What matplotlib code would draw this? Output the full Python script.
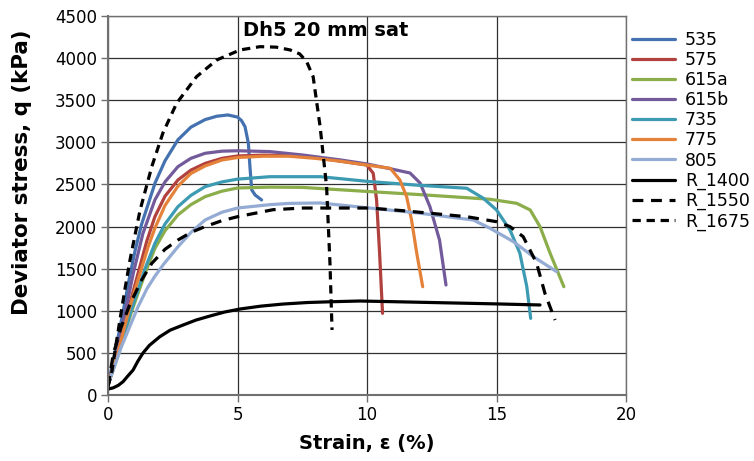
import matplotlib
matplotlib.use("Agg")
import matplotlib.pyplot as plt

plt.rcParams['font.family'] = ['DejaVu Sans']

title = "Dh5 20 mm sat"
x_label = "Strain, ε (%)"
y_label = "Deviator stress, q (kPa)"
x_ticks = [0, 5, 10, 15, 20]
y_ticks = [0, 500, 1000, 1500, 2000, 2500, 3000, 3500, 4000, 4500]

s535_x = [0, 0.27, 0.59, 0.82, 1.05, 1.3, 1.82, 2.2, 2.7, 3.2, 3.75, 4.2, 4.63, 5.0, 5.15, 5.29, 5.42, 5.48, 5.55, 5.68, 5.93]
s535_y = [120, 500, 1000, 1380, 1720, 2030, 2520, 2780, 3030, 3180, 3270, 3310, 3325, 3300, 3260, 3186, 2989, 2711, 2435, 2375, 2316]

s575_x = [0, 0.35, 0.77, 1.21, 1.5, 1.81, 2.2, 2.7, 3.2, 3.75, 4.4, 5.0, 6.0, 7.0, 8.0, 9.0, 9.99, 10.24, 10.37, 10.48, 10.6]
s575_y = [120, 500, 1000, 1500, 1830, 2117, 2360, 2553, 2670, 2750, 2810, 2838, 2848, 2845, 2820, 2775, 2731, 2633, 2316, 1722, 970]

s615a_x = [0, 0.42, 0.92, 1.5, 1.81, 2.2, 2.7, 3.2, 3.75, 4.4, 5.0, 6.25, 7.5, 10.1, 12.0, 13.98, 14.75, 15.78, 16.3, 16.68, 17.07, 17.6]
s615a_y = [120, 500, 1000, 1500, 1740, 1950, 2138, 2260, 2355, 2420, 2458, 2468, 2465, 2415, 2380, 2340, 2324, 2276, 2197, 1999, 1683, 1286]

s615b_x = [0, 0.3, 0.68, 0.98, 1.35, 1.81, 2.2, 2.7, 3.2, 3.75, 4.4, 5.0, 6.25, 7.5, 9.0, 10.0, 11.0, 11.66, 12.05, 12.43, 12.8, 13.05]
s615b_y = [120, 450, 1000, 1450, 1920, 2316, 2530, 2711, 2810, 2870, 2895, 2900, 2890, 2850, 2790, 2743, 2680, 2636, 2517, 2236, 1840, 1306]

s735_x = [0, 0.4, 0.89, 1.43, 1.81, 2.2, 2.7, 3.2, 3.75, 4.4, 5.0, 6.25, 8.2, 10.1, 12.0, 13.85, 14.49, 15.0, 15.52, 15.9, 16.17, 16.32]
s735_y = [120, 500, 1000, 1500, 1800, 2030, 2236, 2370, 2474, 2530, 2563, 2592, 2592, 2534, 2490, 2455, 2336, 2197, 1960, 1686, 1286, 910]

s775_x = [0, 0.38, 0.8, 1.29, 1.55, 1.81, 2.2, 2.7, 3.2, 3.75, 4.4, 5.0, 6.0, 7.0, 8.0, 9.0, 10.0, 10.9, 11.27, 11.53, 11.72, 11.92, 12.15]
s775_y = [120, 500, 1000, 1500, 1760, 1980, 2250, 2480, 2630, 2720, 2790, 2820, 2835, 2835, 2810, 2775, 2730, 2692, 2553, 2355, 2078, 1686, 1286]

s805_x = [0, 0.5, 1.16, 1.5, 1.81, 2.14, 2.7, 3.2, 3.75, 4.4, 5.0, 6.25, 7.0, 8.2, 10.1, 12.0, 14.1, 14.75, 15.65, 16.42, 17.32]
s805_y = [120, 560, 1048, 1260, 1410, 1550, 1760, 1930, 2078, 2170, 2220, 2260, 2275, 2280, 2220, 2160, 2078, 1980, 1821, 1643, 1465]

r1400_x = [0, 0.2, 0.4, 0.58, 0.75, 0.97, 1.15, 1.35, 1.6, 2.0, 2.4, 2.9, 3.4, 3.94, 4.5, 5.1, 5.9, 6.76, 7.7, 8.69, 9.73, 11.0, 12.8, 14.8, 16.68]
r1400_y = [70, 85, 115, 158, 220, 297, 400, 498, 590, 692, 770, 831, 890, 938, 985, 1021, 1055, 1080, 1098, 1108, 1116, 1108, 1096, 1083, 1069]

r1550_x = [0, 0.2, 0.5, 0.85, 1.3, 1.69, 2.2, 2.7, 3.2, 3.75, 4.4, 5.0, 6.37, 7.53, 10.1, 11.4, 13.85, 15.0, 15.52, 16.03, 16.55, 16.87, 17.26]
r1550_y = [100, 480, 800, 1080, 1366, 1563, 1730, 1840, 1930, 2000, 2070, 2117, 2200, 2220, 2220, 2188, 2117, 2058, 1999, 1880, 1564, 1207, 890]

r1675_x = [0, 0.14, 0.3, 0.46, 0.65, 0.85, 1.05, 1.24, 1.69, 2.12, 2.65, 3.42, 4.2, 5.1, 5.87, 6.5, 7.03, 7.4, 7.67, 7.92, 8.19, 8.44, 8.57, 8.65]
r1675_y = [100, 260, 580, 890, 1250, 1603, 1910, 2197, 2711, 3111, 3464, 3780, 3978, 4097, 4136, 4130, 4097, 4050, 3958, 3780, 3186, 2474, 1567, 772]

series = [
    ("535", s535_x, s535_y, "#4472B0", "-"),
    ("575", s575_x, s575_y, "#B0413E", "-"),
    ("615a", s615a_x, s615a_y, "#8BAD4A", "-"),
    ("615b", s615b_x, s615b_y, "#735A9A", "-"),
    ("735", s735_x, s735_y, "#3C9BB2", "-"),
    ("775", s775_x, s775_y, "#E5823A", "-"),
    ("805", s805_x, s805_y, "#94ABD4", "-"),
    ("R_1400", r1400_x, r1400_y, "black", "-"),
    ("R_1550", r1550_x, r1550_y, "black", (0, (3.4, 2.4))),
    ("R_1675", r1675_x, r1675_y, "black", (0, (2.6, 1.8))),
]

fig = plt.figure(figsize=(7.54, 4.61), dpi=100)
ax = fig.add_axes([108/754, 1-395/461, (626-108)/754, (395-16)/461])

for name, xs, ys, col, ls in series:
    ax.plot(xs, ys, color=col, linestyle=ls, linewidth=2.3, label=name,
            solid_capstyle='round', solid_joinstyle='round', dash_capstyle='butt')

ax.set_xlim(0, 20)
ax.set_ylim(0, 4500)
ax.set_xticks(x_ticks)
ax.set_yticks(y_ticks)
ax.grid(True, color='#303030', linewidth=0.9)
ax.set_axisbelow(True)
for side in ['left', 'bottom']:
    ax.spines[side].set_color('#707070')
    ax.spines[side].set_linewidth(1.5)
for side in ['top', 'right']:
    ax.spines[side].set_color('#707070')
    ax.spines[side].set_linewidth(1.0)
ax.tick_params(axis='both', direction='out', length=5, width=1, color='#707070',
               labelsize=12, pad=3)

ax.set_xlabel(x_label, fontsize=14, fontweight='bold', labelpad=7)
fig.text(22/754, 1-172/461, y_label, fontsize=15.4, fontweight='bold',
         rotation=90, ha='center', va='center')
ax.text(5.2, 4330, title, fontsize=14, fontweight='bold', ha='left', va='center')

fig.legend(loc='upper left', bbox_to_anchor=(632/754, 1-31/461), frameon=False,
           fontsize=12.5, handlelength=2.47, labelspacing=0.12, handletextpad=0.57,
           borderaxespad=0, borderpad=0)

fig.savefig("out.png", dpi=100)
